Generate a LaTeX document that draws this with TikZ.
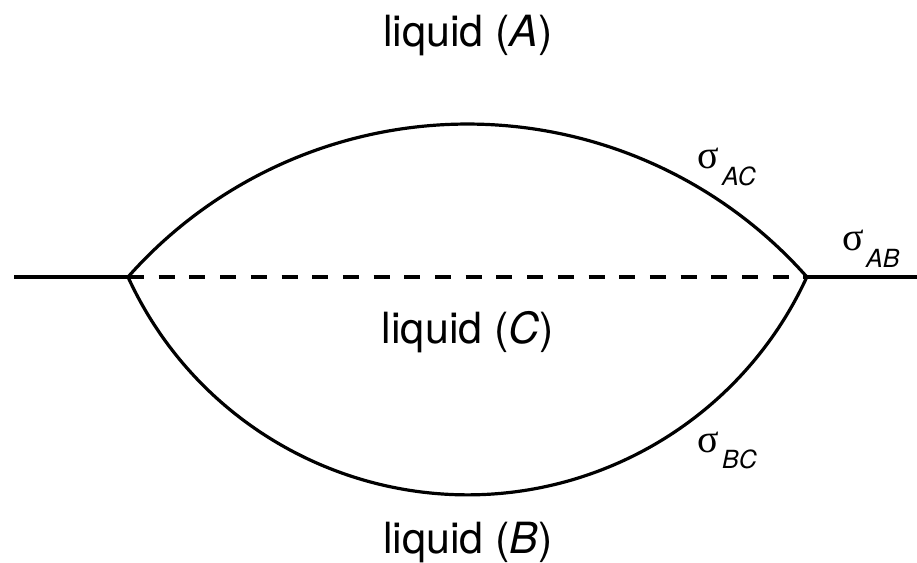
\documentclass[tikz,border=0pt]{standalone}
\usepackage{fontspec}
\setmainfont{TeX Gyre Heros}
\newfontfamily\sigfont{Liberation Serif}
\begin{document}
\begin{tikzpicture}[x=1pt,y=-1pt,
  line/.style={line width=3.2pt},
  dashline/.style={line width=3.2pt, dash pattern=on 16pt off 14.7pt},
  lbl/.style={inner sep=0pt, anchor=base, font=\fontsize{43}{50}\selectfont},
  sig/.style={inner sep=0pt, anchor=base west, font=\sigfont\fontsize{40}{46}\selectfont},
  sub/.style={inner sep=0pt, anchor=base west, font=\fontsize{25}{30}\selectfont\itshape}]
\useasboundingbox (0,0) rectangle (917,562);
\coordinate (L) at (128,277);
\coordinate (R) at (807,277);
\coordinate (E1) at (14,277);
\coordinate (E2) at (917,277);
\draw[line] (E1) -- (L);
\draw[line] (R) -- (E2);
\draw[dashline] (L) -- (R);
\draw[line] (L) arc[start angle=-138.51, end angle=-41.49, radius=453.2];
\draw[line] (L) arc[start angle=155.37, end angle=24.63, radius=373.4];
\node[lbl] (la) at (468,46) {liquid (\textit{A})};
\node[lbl] (lc) at (468,343) {liquid (\textit{C})};
\node[lbl] (lb) at (468,553) {liquid (\textit{B})};
\node[sig] (sac) at (697,168) {σ};
\node[sub] (sacs) at (722,185) {AC};
\node[sig] (sab) at (842,250) {σ};
\node[sub] (sabs) at (866,267) {AB};
\node[sig] (sbc) at (697,452) {σ};
\node[sub] (sbcs) at (722,468) {BC};
\end{tikzpicture}
\end{document}
